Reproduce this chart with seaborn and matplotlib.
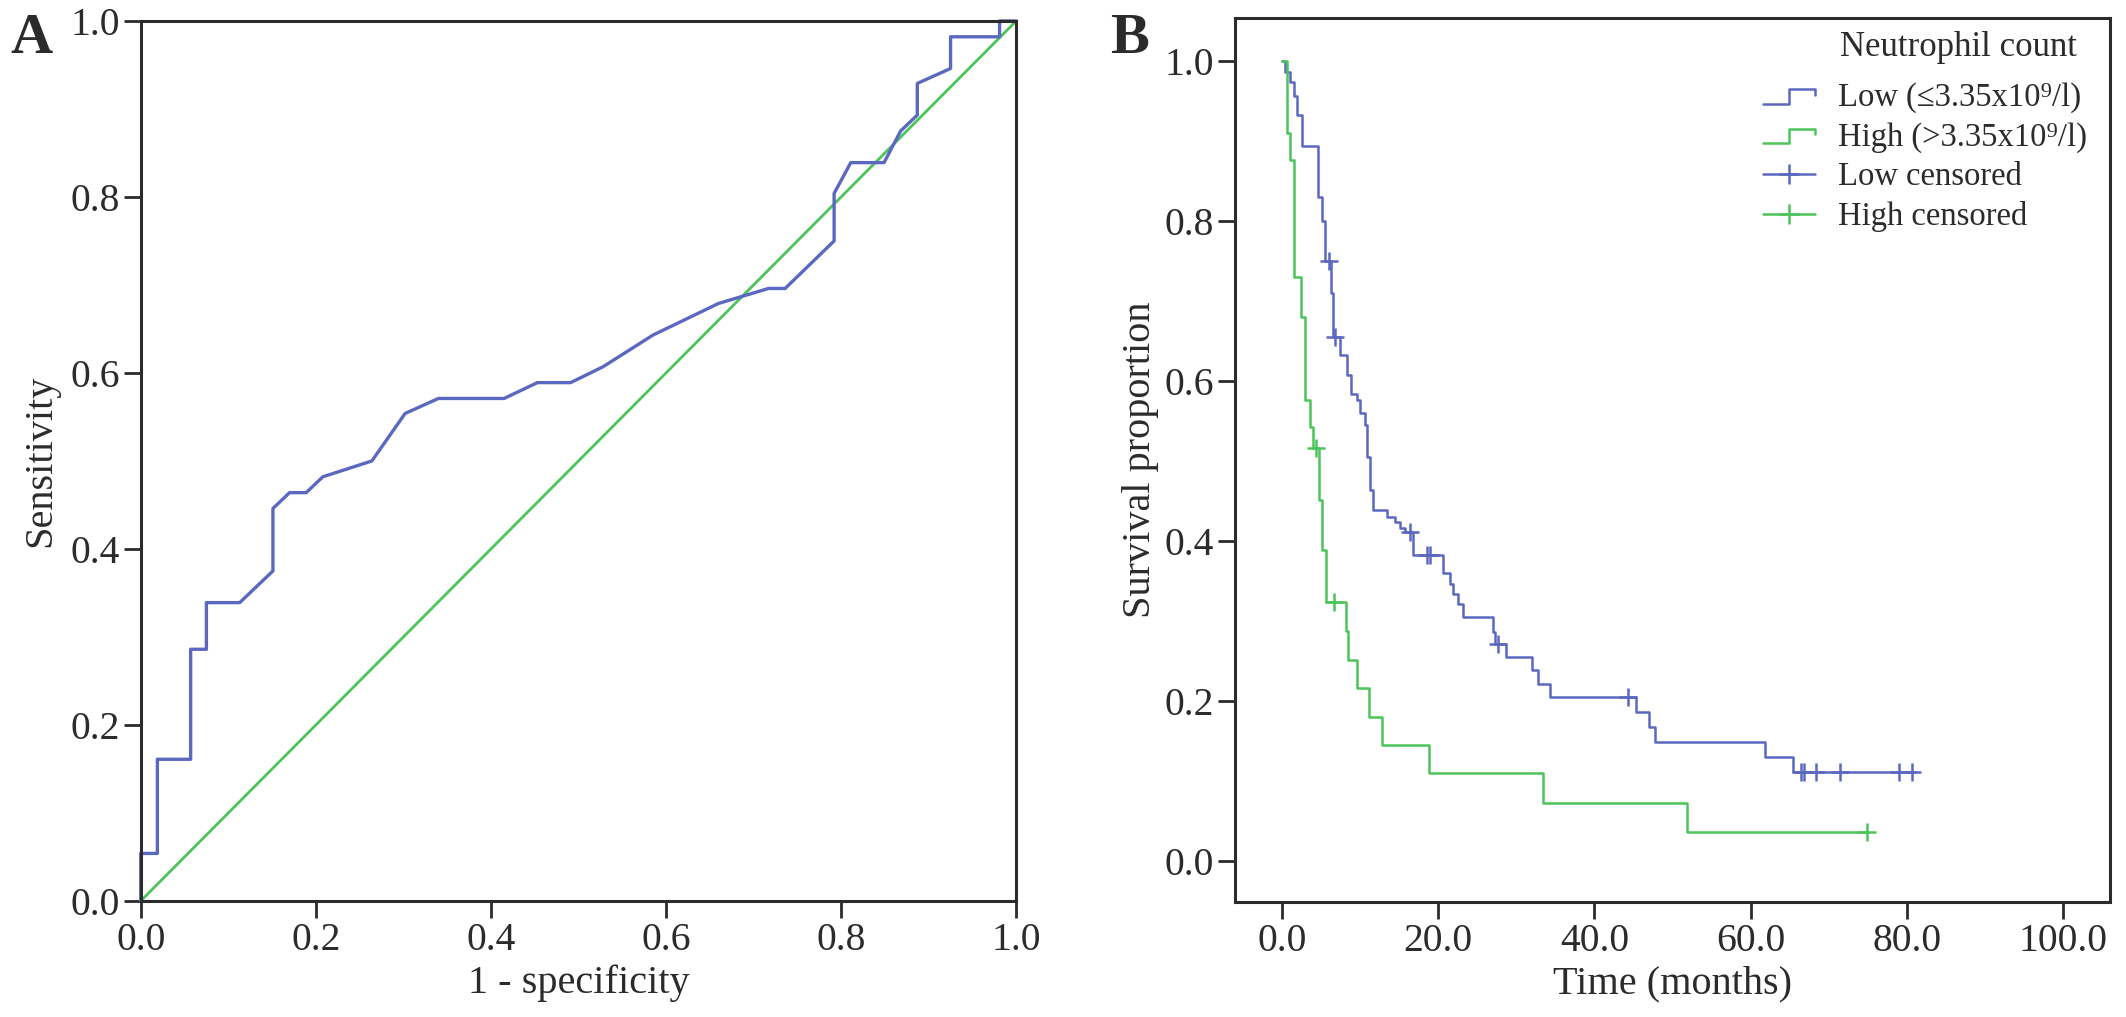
import matplotlib
matplotlib.use("Agg")
import matplotlib.pyplot as plt
import seaborn as sns
import numpy as np
import pandas as pd
from matplotlib.lines import Line2D
from matplotlib.legend_handler import HandlerBase

# ---- Panel A: ROC curve ----
roc_fpr = [0, 0, 0.019, 0.019, 0.057, 0.057, 0.075, 0.075, 0.113, 0.151, 0.151,
           0.170, 0.189, 0.208, 0.264, 0.302, 0.340, 0.415, 0.453, 0.491, 0.528,
           0.585, 0.660, 0.717, 0.736, 0.792, 0.792, 0.811, 0.849, 0.868, 0.887,
           0.887, 0.925, 0.925, 0.981, 0.981, 1.0]
roc_tpr = [0, 0.054, 0.054, 0.161, 0.161, 0.286, 0.286, 0.339, 0.339, 0.375, 0.446,
           0.464, 0.464, 0.482, 0.500, 0.554, 0.571, 0.571, 0.589, 0.589, 0.607,
           0.643, 0.679, 0.696, 0.696, 0.750, 0.804, 0.839, 0.839, 0.875, 0.893,
           0.929, 0.946, 0.982, 0.982, 1.0, 1.0]
ref_line = [0.0, 1.0]
roc_ticks = [0.0, 0.2, 0.4, 0.6, 0.8, 1.0]

# ---- Panel B: Kaplan-Meier (time in months, survival after each event) ----
low_time = [0, 0.4, 1.1, 1.5, 1.9, 2.6, 4.6, 5.1, 5.5, 6.3, 6.6, 7.4, 8.3, 8.9,
            9.6, 10.0, 10.6, 10.9, 11.3, 11.7, 13.4, 14.5, 15.1, 15.7, 16.8, 20.6,
            21.5, 21.9, 22.6, 23.2, 27.0, 27.3, 28.7, 32.0, 32.8, 34.3, 45.3, 47.0,
            47.7, 61.9, 65.4, 81.0]
low_surv = [1.0, 0.987, 0.974, 0.957, 0.933, 0.894, 0.830, 0.800, 0.750, 0.710,
            0.655, 0.633, 0.608, 0.584, 0.576, 0.560, 0.545, 0.505, 0.464, 0.439,
            0.430, 0.424, 0.416, 0.412, 0.383, 0.360, 0.347, 0.334, 0.322, 0.305,
            0.287, 0.272, 0.255, 0.239, 0.222, 0.205, 0.187, 0.168, 0.149, 0.130,
            0.112, 0.112]
low_cens_time = [6.0, 6.8, 16.4, 18.6, 19.0, 27.6, 44.3, 66.4, 66.8, 68.3, 71.4, 79.0, 80.6]
low_cens_surv = [0.750, 0.655, 0.412, 0.383, 0.383, 0.272, 0.205, 0.112, 0.112,
                 0.112, 0.112, 0.112, 0.112]

high_time = [0, 0.6, 1.0, 1.6, 2.4, 3.0, 3.6, 4.0, 4.7, 5.1, 5.7, 8.2, 8.5, 9.6,
             11.2, 12.8, 18.8, 33.4, 51.9, 74.9]
high_surv = [1.0, 0.910, 0.876, 0.730, 0.680, 0.576, 0.543, 0.516, 0.451, 0.389,
             0.324, 0.288, 0.252, 0.217, 0.180, 0.145, 0.110, 0.073, 0.037, 0.037]
high_cens_time = [4.4, 6.7, 74.9]
high_cens_surv = [0.516, 0.324, 0.037]

km_xticks = [0, 20, 40, 60, 80, 100]
km_yticks = [0.0, 0.2, 0.4, 0.6, 0.8, 1.0]

group_labels = ["Low (\u22643.35x10\u2079/l)", "High (>3.35x10\u2079/l)",
                "Low censored", "High censored"]

BLUE = "#5b68c0"
GREEN = "#4cc45a"
INK = "#2b2b2b"

sns.set_style("ticks")
plt.rcParams['font.family'] = ['Liberation Serif', 'DejaVu Serif']
plt.rcParams['text.color'] = INK
plt.rcParams['axes.labelcolor'] = INK
plt.rcParams['xtick.color'] = INK
plt.rcParams['ytick.color'] = INK


class StepHandler(HandlerBase):
    # little step icon like the SPSS legend
    def create_artists(self, legend, orig_handle, xdescent, ydescent,
                       width, height, fontsize, trans):
        x0, y0 = -xdescent, -ydescent
        xs = [x0, x0 + 0.5 * width, x0 + 0.5 * width, x0 + width, x0 + width]
        ys = [y0 + 0.1 * height, y0 + 0.1 * height, y0 + 0.75 * height,
              y0 + 0.75 * height, y0 + 0.5 * height]
        ln = Line2D(xs, ys, color=orig_handle.get_color(),
                    lw=orig_handle.get_linewidth(), transform=trans)
        return [ln]


def style_axes(ax):
    for sp in ax.spines.values():
        sp.set_visible(True)
        sp.set_color(INK)
        sp.set_linewidth(2.2)
    ax.tick_params(direction='out', length=12, width=2, labelsize=28.5,
                   pad=3, top=False, right=False)


fig = plt.figure(figsize=(21.26, 10.17), dpi=100)
fig.patch.set_facecolor('white')

# ---------- A ----------
axA = fig.add_axes([0.0662, 0.1141, 0.4118, 0.8653])
sns.lineplot(x=ref_line, y=ref_line, ax=axA, color=GREEN, lw=2.0,
             sort=False, estimator=None)
sns.lineplot(x=roc_fpr, y=roc_tpr, ax=axA, color=BLUE, lw=2.4,
             sort=False, estimator=None)
axA.set_xlim(0, 1)
axA.set_ylim(0, 1)
axA.set_xticks(roc_ticks)
axA.set_yticks(roc_ticks)
axA.set_xticklabels([f"{t:.1f}" for t in roc_ticks])
axA.set_yticklabels([f"{t:.1f}" for t in roc_ticks])
axA.set_xlabel("1 - specificity", fontsize=29, labelpad=4)
axA.set_ylabel("Sensitivity", fontsize=29, labelpad=8)
style_axes(axA)
for ln in axA.lines:
    ln.set_clip_on(False)

# ---------- B ----------
axB = fig.add_axes([0.5809, 0.1131, 0.4116, 0.8692])
sns.lineplot(x=low_time, y=low_surv, ax=axB, color=BLUE, lw=1.8,
             drawstyle='steps-post', sort=False, estimator=None)
sns.lineplot(x=high_time, y=high_surv, ax=axB, color=GREEN, lw=1.8,
             drawstyle='steps-post', sort=False, estimator=None)
sns.scatterplot(x=low_cens_time, y=low_cens_surv, ax=axB, marker='+', s=180,
                color=BLUE, linewidth=1.8, zorder=5)
sns.scatterplot(x=high_cens_time, y=high_cens_surv, ax=axB, marker='+', s=180,
                color=GREEN, linewidth=1.8, zorder=5)
axB.set_xlim(-6, 106)
axB.set_ylim(-0.051, 1.054)
axB.set_xticks(km_xticks)
axB.set_yticks(km_yticks)
axB.set_xticklabels([f"{t:.1f}" for t in km_xticks])
axB.set_yticklabels([f"{t:.1f}" for t in km_yticks])
axB.set_xlabel("Time (months)", fontsize=29, labelpad=4)
axB.set_ylabel("Survival proportion", fontsize=29, labelpad=4)
style_axes(axB)

handles = [Line2D([], [], color=BLUE, lw=1.8),
           Line2D([], [], color=GREEN, lw=1.8),
           Line2D([], [], color=BLUE, lw=1.8, marker='+', markersize=15, mew=1.8),
           Line2D([], [], color=GREEN, lw=1.8, marker='+', markersize=15, mew=1.8)]
leg = axB.legend(handles=handles, labels=group_labels,
                 handler_map={handles[0]: StepHandler(), handles[1]: StepHandler()},
                 loc='upper left', bbox_to_anchor=(0.603, 0.927),
                 frameon=False, fontsize=23.5, borderpad=0, borderaxespad=0,
                 handlelength=1.6, handletextpad=0.7, labelspacing=0.27,
                 numpoints=1)
axB.text(0.691, 0.967, "Neutrophil count", transform=axB.transAxes,
         fontsize=25, ha='left', va='center')

# panel letters
fig.text(0.005, 0.987, "A", fontsize=42, fontweight='bold', va='top', ha='left')
fig.text(0.522, 0.987, "B", fontsize=42, fontweight='bold', va='top', ha='left')

fig.savefig("out.png", dpi=100, facecolor='white')
plt.close(fig)
